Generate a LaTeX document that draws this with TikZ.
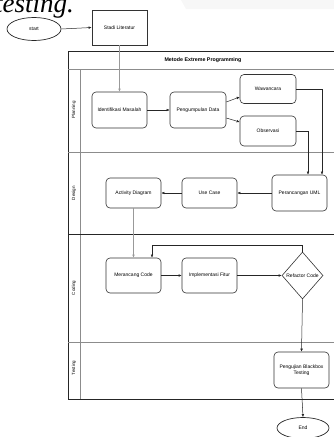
\documentclass[tikz,border=0pt]{standalone}
\usepackage{fontspec}
\setmainfont{Liberation Sans}
\newfontfamily\tnr{Liberation Serif}
\usetikzlibrary{arrows.meta,shapes.geometric}
\tikzset{
  box/.style={draw=black!80,line width=0.6pt,rounded corners=4pt,minimum width=55pt,minimum height=35pt,inner sep=1pt,align=center,font=\fontsize{5}{6}\selectfont},
  term/.style={draw=black!85,line width=0.7pt,ellipse,inner sep=0pt,font=\fontsize{5}{6}\selectfont},
  arr/.style={draw=black!85,line width=0.5pt,-{Latex[length=3pt,width=2.6pt]}},
  lane/.style={draw=black!45,line width=0.6pt},
  lanelabel/.style={rotate=90,font=\fontsize{4.5}{5}\selectfont},
}
\begin{document}
\begin{tikzpicture}[x=1pt,y=-1pt]
\useasboundingbox (0,0) rectangle (334,437);
\clip (0,0) rectangle (334,437);
% background artefacts
\fill[gray!6] (181,0) -- (340,0) -- (340,9) -- (186,9) -- cycle;
\node[anchor=base west,inner sep=0pt,font=\tnr\itshape\fontsize{27}{27}\selectfont] (head) at (-5,12) {testing.};
% pool
\draw[black!85,line width=0.7pt] (68,51) rectangle (345,399);
\draw[lane] (68,69) -- (345,69);
\draw[lane] (80,69) -- (80,399);
\draw[lane] (68,152) -- (345,152);
\draw[black!85,line width=0.7pt] (68,234) -- (345,234);
\draw[lane] (68,342) -- (345,342);
\node[font=\bfseries\fontsize{5.3}{6}\selectfont] (title) at (203,60) {Metode Extreme Programming};
\node[lanelabel] (lp) at (74,110) {Planning};
\node[lanelabel] (ld) at (74,193) {Design};
\node[lanelabel] (lc) at (74,288) {Coding};
\node[lanelabel] (lt) at (74,368) {Testing};
% nodes
\node[term,minimum width=54pt,minimum height=23pt] (start) at (34,29) {start};
\node[box,rounded corners=0pt] (stadi) at (119.5,27.5) {Stadi Literatur};
\node[box,minimum height=36pt] (idm) at (119.5,110) {Identifikasi Masalah};
\node[box,minimum width=56pt,minimum height=36pt] (pd) at (198,110) {Pengumpulan Data};
\node[box,minimum width=56pt,minimum height=29pt] (waw) at (268,89) {Wawancara};
\node[box,minimum width=56pt,minimum height=30pt] (obs) at (268,131) {Observasi};
\node[box,minimum height=36pt] (uml) at (299.5,193) {Perancangan UML};
\node[box,minimum height=30pt] (uc) at (209.5,193) {Use Case};
\node[box,minimum height=30pt] (ad) at (133.5,193) {Activity Diagram};
\node[box] (mc) at (133.5,275.5) {Merancang Code};
\node[box] (impl) at (209.5,275.5) {Implementasi Fitur};
\node[draw=black!80,line width=0.6pt,diamond,minimum width=41pt,minimum height=47pt,inner sep=0pt,font=\fontsize{5}{6}\selectfont] (ref) at (302.5,275.5) {Refactor Code};
\node[box,minimum height=36pt] (peng) at (301.5,370) {Pengujian Blackbox\\Testing};
\node[term,minimum width=52pt,minimum height=21pt] (end) at (303,428) {End};
% connectors
\draw[arr] (start.east) -- (stadi.west);
\draw[arr,draw=black!40] (stadi.south) -- (idm.north);
\draw[arr] (idm.east) -- (pd.west);
\draw[arr] ([yshift=8pt]pd.east) -- ([yshift=-8pt]waw.west);
\draw[arr] ([yshift=-8pt]pd.east) -- ([yshift=9pt]obs.west);
\draw[arr] (waw.east) -| ([xshift=22.5pt]uml.north);
\draw[arr] (obs.east) -| ([xshift=8.5pt]uml.north);
\draw[arr] (uml.west) -- (uc.east);
\draw[arr] (uc.west) -- (ad.east);
\draw[arr,draw=black!40] (ad.south) -- (mc.north);
\draw[arr] (mc.east) -- (impl.west);
\draw[arr] (impl.east) -- (ref.west);
\draw[arr] (ref.north) -- ++(0,-6) -| ([xshift=18.5pt]mc.north);
\draw[arr] (ref.south) -- (peng.north);
\draw[arr] (peng.south) -- (end.north);
\end{tikzpicture}
\end{document}
